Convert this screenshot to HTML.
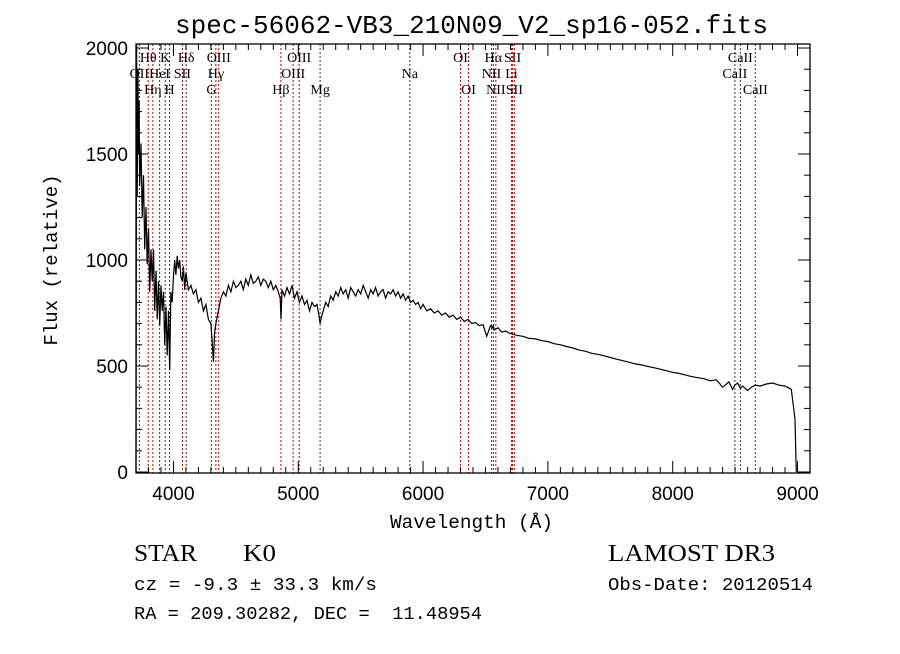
<!DOCTYPE html>
<html><head><meta charset="utf-8">
<style>
body{margin:0;background:#fff;}
svg text{font-family:"Liberation Serif",serif;fill:#000;}
</style></head>
<body>
<svg id="chart" width="900" height="649" viewBox="0 0 900 649" xmlns="http://www.w3.org/2000/svg">
<rect width="900" height="649" fill="#fff"/>
<text x="175" y="33" textLength="593" lengthAdjust="spacingAndGlyphs" font-size="26" style="font-family:'Liberation Mono',monospace">spec-56062-VB3_210N09_V2_sp16-052.fits</text>
<g id="lines"></g>
<g id="axes"></g>
<polyline id="spec" fill="none" stroke="#000" stroke-width="1.2"/>
<rect x="136" y="44" width="674" height="429" fill="none" stroke="#000" stroke-width="1.3"/>
<text x="390" y="528" textLength="163" lengthAdjust="spacingAndGlyphs" font-size="19" style="font-family:'Liberation Mono',monospace">Wavelength (Å)</text>
<text transform="translate(57,260) rotate(-90)" text-anchor="middle" font-size="19" style="font-family:'Liberation Mono',monospace">Flux (relative)</text>
<text x="134" y="561" textLength="63" lengthAdjust="spacingAndGlyphs" font-size="24">STAR</text>
<text x="243" y="561" textLength="33" lengthAdjust="spacingAndGlyphs" font-size="24">K0</text>
<text x="134" y="590" textLength="243" lengthAdjust="spacingAndGlyphs" font-size="18" style="font-family:'Liberation Mono',monospace">cz = -9.3 ± 33.3 km/s</text>
<text x="134" y="619" textLength="348" lengthAdjust="spacingAndGlyphs" font-size="18" style="font-family:'Liberation Mono',monospace" xml:space="preserve">RA = 209.30282, DEC =  11.48954</text>
<text x="608" y="561" textLength="167" lengthAdjust="spacingAndGlyphs" font-size="24">LAMOST DR3</text>
<text x="608" y="590" textLength="205" lengthAdjust="spacingAndGlyphs" font-size="18" style="font-family:'Liberation Mono',monospace">Obs-Date: 20120514</text>
</svg>
<script>
const xTicks=[4000,5000,6000,7000,8000,9000];
const yTicks=[0,500,1000,1500,2000];
const lineNames=["OII","Hθ","Hη","HeI","K","H","SII","Hδ","G","Hγ","OIII","Hβ","OIII","OIII","Mg","Na","OI","OI","NII","Hα","NII","Li","SII","SII","CaII","CaII","CaII"];
const lineWaves=[3727,3798,3835,3889,3934,3969,4072,4102,4304,4340,4363,4861,4959,5007,5175,5894,6300,6364,6548,6563,6583,6708,6717,6731,8498,8542,8662];
const lineRows=[1,0,2,1,0,2,1,0,2,1,0,2,1,0,2,1,0,2,1,0,2,1,0,2,1,0,2];
const lineAbs=[0,0,0,0,1,1,0,1,1,0,0,0,0,0,1,1,0,0,0,0,0,0,0,0,1,1,0];
const specWave=[3700,3705,3710,3715,3720,3725,3730,3740,3750,3760,3770,3780,3790,3800,3810,3820,3830,3840,3850,3860,3870,3880,3890,3900,3910,3920,3930,3940,3950,3960,3970,3980,3990,4000,4010,4020,4030,4040,4050,4060,4070,4080,4090,4100,4110,4120,4140,4160,4180,4200,4220,4240,4260,4280,4300,4310,4320,4330,4340,4360,4380,4400,4420,4440,4460,4480,4500,4520,4540,4560,4580,4600,4620,4640,4660,4680,4700,4720,4740,4760,4780,4800,4820,4840,4855,4862,4870,4890,4910,4930,4950,4970,4990,5010,5030,5050,5070,5090,5110,5130,5150,5165,5175,5185,5200,5220,5240,5260,5280,5300,5320,5340,5360,5380,5400,5420,5440,5460,5480,5500,5520,5540,5560,5580,5600,5620,5640,5660,5680,5700,5720,5740,5760,5780,5800,5820,5840,5860,5880,5900,5920,5940,5960,5980,6000,6030,6060,6090,6120,6150,6180,6210,6240,6270,6300,6330,6360,6390,6420,6450,6480,6510,6540,6555,6563,6570,6600,6630,6660,6690,6720,6750,6800,6850,6900,6950,7000,7050,7100,7150,7200,7250,7300,7350,7400,7450,7500,7550,7600,7650,7700,7750,7800,7850,7900,7950,8000,8050,8100,8150,8200,8250,8300,8350,8400,8450,8480,8498,8520,8542,8560,8600,8630,8662,8700,8750,8800,8850,8900,8950,8980,8990,8995,9000];
const specFlux=[0,2050,1300,1900,1500,1750,1350,1550,1200,1400,1050,1250,980,1150,850,1050,900,1050,760,950,720,900,690,880,760,850,600,780,550,760,480,850,800,920,1000,930,1020,960,1000,920,900,970,860,940,900,860,880,840,860,800,820,760,790,720,700,620,520,660,700,760,820,850,830,880,850,900,870,880,900,860,910,880,930,890,900,920,880,910,900,870,900,860,880,850,820,720,860,830,870,840,880,820,850,800,830,790,810,760,800,780,790,740,700,730,760,800,780,830,810,850,830,870,840,860,820,870,850,830,860,840,880,850,820,860,840,870,830,850,860,820,850,840,860,830,850,820,840,810,830,800,810,790,800,770,790,760,770,750,760,740,750,730,740,720,730,710,720,700,705,690,695,640,690,680,690,670,680,660,665,655,650,645,640,630,628,620,615,605,600,592,585,575,570,560,555,548,540,532,525,518,510,505,498,492,485,478,470,465,458,450,445,440,430,435,400,425,390,410,420,395,405,385,400,410,405,415,420,410,405,390,250,0];
const X0=3700,X1=9100,PX0=136,PX1=810,PY0=472,PYS=0.212;
function xs(w){return PX0+(w-X0)*(PX1-PX0)/(X1-X0);}
function ys(v){return PY0-v*PYS;}
const NS="http://www.w3.org/2000/svg";
const axes=document.getElementById('axes');
function mk(tag,attrs,parent){const e=document.createElementNS(NS,tag);for(const k in attrs)e.setAttribute(k,attrs[k]);parent.appendChild(e);return e;}
for(let w=3800;w<=9000;w+=100){
  const major=w%1000===0;const L=major?12:6;
  const t1=mk('line',{x1:xs(w),x2:xs(w),y1:473,y2:473-L,stroke:'#000'},axes);
  
  
  const t2=mk('line',{x1:xs(w),x2:xs(w),y1:44,y2:44+L,stroke:'#000'},axes);
  
  
}
xTicks.forEach(w=>{
  const t=mk('text',{x:xs(w),y:500,'text-anchor':'middle','font-size':19,style:"font-family:'Liberation Sans',sans-serif"},axes);
  t.textContent=w;
  
  
});
for(let v=0;v<=2000;v+=100){
  const major=v%500===0;const L=major?12:6;
  const t1=mk('line',{x1:136,x2:136+L,y1:ys(v),y2:ys(v),stroke:'#000'},axes);
  
  
  const t2=mk('line',{x1:810,x2:810-L,y1:ys(v),y2:ys(v),stroke:'#000'},axes);
  
  
}
yTicks.forEach(v=>{
  const t=mk('text',{x:128,y:ys(v)+7,'text-anchor':'end','font-size':19,style:"font-family:'Liberation Sans',sans-serif"},axes);
  t.textContent=v;
  
  
});
const lg=document.getElementById('lines');
lineWaves.forEach((w,i)=>{
  const l=mk('line',{x1:xs(w),x2:xs(w),y1:44,y2:473,stroke:lineAbs[i]?'#333':'#c00000','stroke-width':1,'stroke-dasharray':'2,2'},lg);
  
  
  const t=mk('text',{x:xs(w),y:62+lineRows[i]*16,'text-anchor':'middle','font-size':14},lg);
  t.textContent=lineNames[i];
  
  
});
const pts=specWave.map((w,i)=>xs(w).toFixed(1)+','+Math.max(44,ys(specFlux[i])).toFixed(1)).join(' ');
document.getElementById('spec').setAttribute('points',pts);
</script>
</body></html>
